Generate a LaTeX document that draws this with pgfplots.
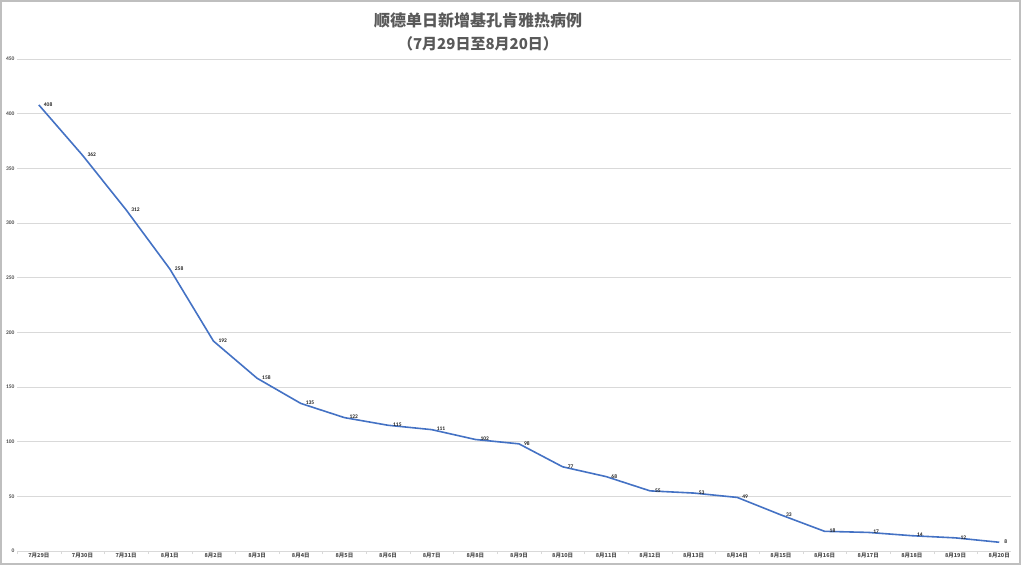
\documentclass[border=0pt]{standalone}
\usepackage{pgfplots}
\pgfplotsset{compat=1.18}
\usepackage{fontspec}
\setmainfont{Carlito}
\newfontfamily\cjk{Noto Sans CJK SC}
\definecolor{lineblue}{HTML}{4472C4}
\definecolor{txtgray}{HTML}{595959}
\definecolor{gridgray}{HTML}{D9D9D9}
\definecolor{framegray}{HTML}{BFBFBF}
\begin{document}
\begin{tikzpicture}[x=1pt,y=1pt]
  \useasboundingbox (0,0) rectangle (1024,565);
  \draw[framegray, line width=1.5pt] (1,1) rectangle (1020,564);
  \node[txtgray, font={\cjk\bfseries\fontsize{16}{18}\selectfont}] at (478,545) {顺德单日新增基孔肯雅热病例};
  \node[txtgray, font={\cjk\bfseries\fontsize{15}{18}\selectfont}] at (478,521) {（7月29日至8月20日）};
  \begin{axis}[
    at={(17pt,14pt)}, anchor=south west,
    scale only axis,
    width=994pt, height=492pt,
    xmin=-0.5, xmax=22.27,
    ymin=0, ymax=450,
    ytick={0,50,...,450},
    xtick={0,...,22},
    xticklabels={7月29日,7月30日,7月31日,8月1日,8月2日,8月3日,8月4日,8月5日,8月6日,8月7日,8月8日,8月9日,8月10日,8月11日,8月12日,8月13日,8月14日,8月15日,8月16日,8月17日,8月18日,8月19日,8月20日},
    minor xtick={-0.5,0.5,...,22.5},
    axis line style={draw=none},
    tick pos=left,
    major tick length=0pt,
    minor tick length=3pt,
    tick align=outside,
    minor tick style={gridgray},
    ymajorgrids,
    major grid style={gridgray, line width=0.8pt},
    x tick label style={font={\cjk\bfseries\fontsize{5.5}{6}\selectfont}, text=black!70, yshift=1pt},
    y tick label style={font={\bfseries\fontsize{5.5}{6}\selectfont}, text=black!70, xshift=1pt},
    /pgf/number format/assume math mode=true,
    clip=false,
    nodes near coords,
    every node near coord/.append style={font={\bfseries\fontsize{5.5}{6}\selectfont}, text=black!85, anchor=west, xshift=1pt, yshift=0.5pt},
  ]
  \draw[gridgray, line width=0.8pt] (axis cs:-0.5,0) -- (axis cs:22.27,0);
  \addplot[lineblue, line width=1.6pt, mark=none] coordinates {
    (0,408) (1,362) (2,312) (3,258) (4,192) (5,158) (6,135) (7,122)
    (8,115) (9,111) (10,102) (11,98) (12,77) (13,68) (14,55) (15,53)
    (16,49) (17,33) (18,18) (19,17) (20,14) (21,12) (22,8)
  };
  \end{axis}
\end{tikzpicture}
\end{document}
